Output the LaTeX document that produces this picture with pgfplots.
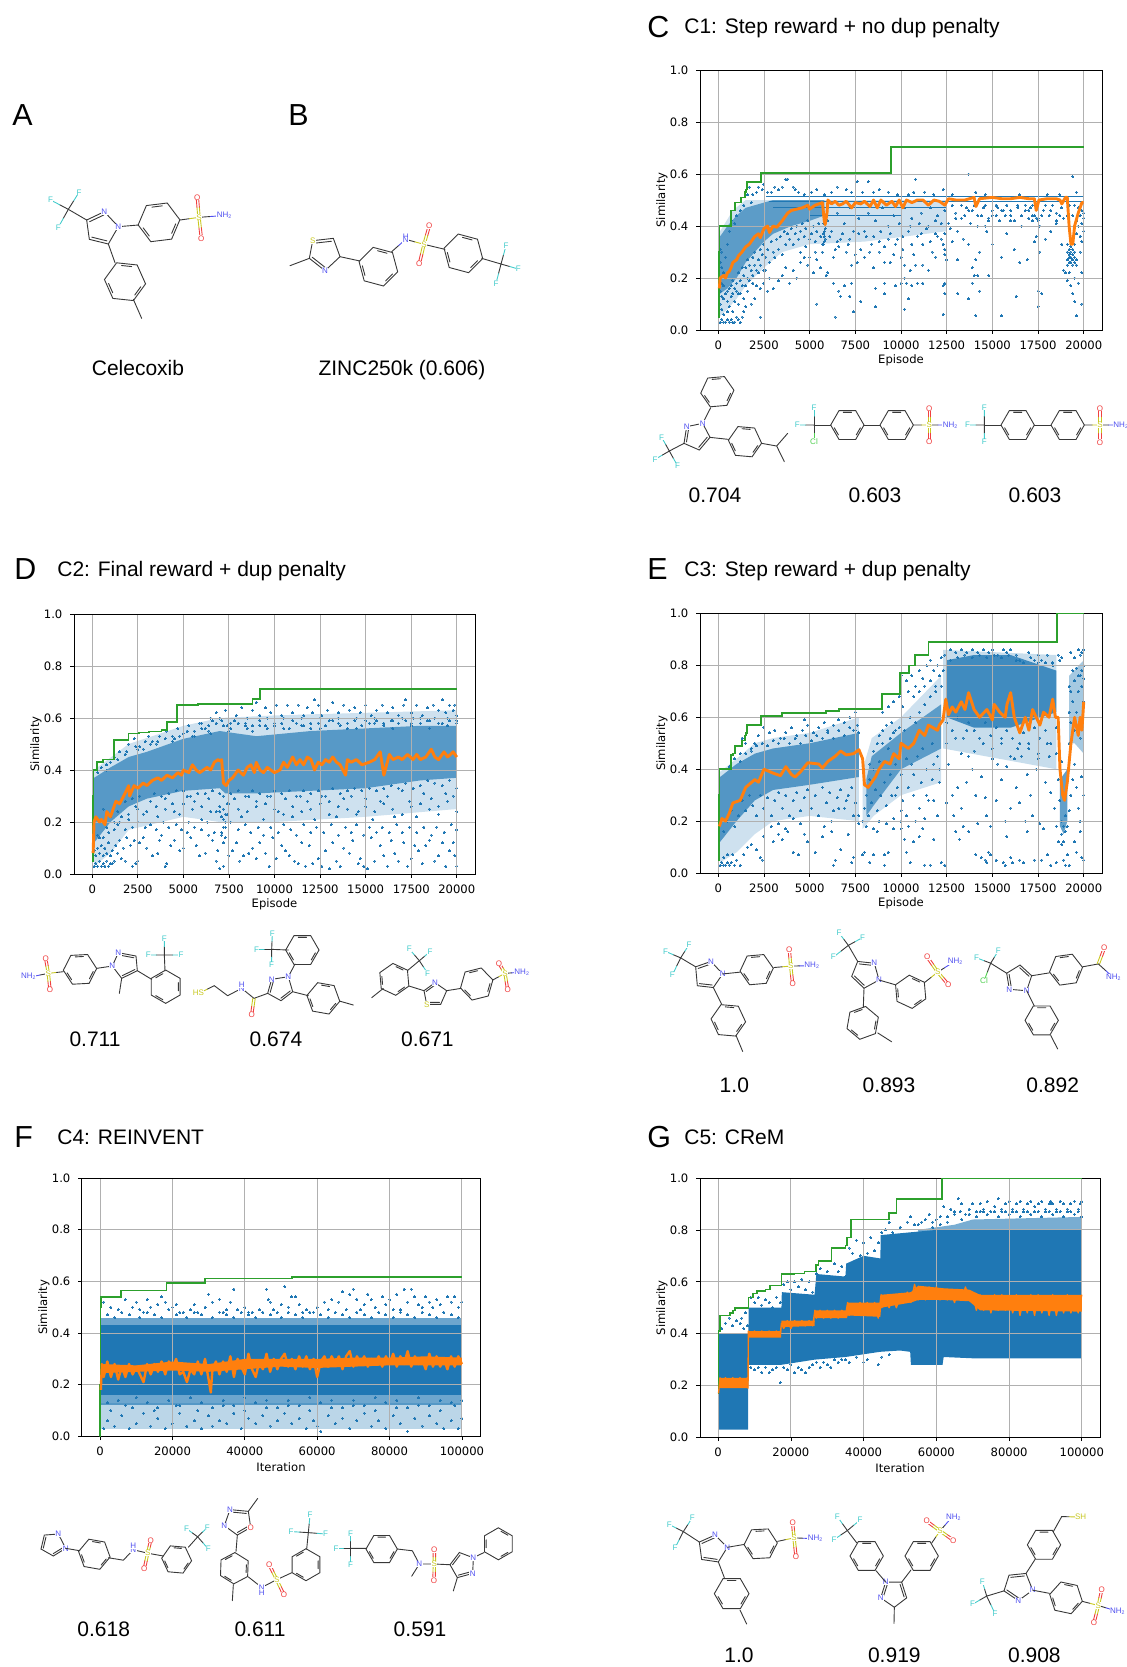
\documentclass[border=0pt]{standalone}
\usepackage{pgfplots}
\pgfplotsset{compat=1.18}
\usepackage{fontspec}
\usetikzlibrary{calc}
\setmainfont{Liberation Sans}
\newfontfamily\djv{DejaVu Sans}
\definecolor{c0}{HTML}{1F77B4}
\definecolor{c1}{HTML}{FF7F0E}
\definecolor{c2}{HTML}{2CA02C}
\definecolor{cF}{HTML}{44CCCC}
\definecolor{cO}{HTML}{F04040}
\definecolor{cN}{HTML}{5050F0}
\definecolor{cS}{HTML}{C8C820}
\definecolor{cC}{HTML}{50D050}
\newcommand\tf{\fontsize{5.8}{6.5}\selectfont\djv}
\newcommand\nh{NH\raisebox{-.5pt}{\fontsize{2.6}{3}\selectfont 2}}
\pgfplotsset{
 table/hh/.style={header=false,row sep=\\,x expr=\thisrowno{0}*100,y expr=\thisrowno{1}/100},
 table/kk/.style={header=false,row sep=\\,x expr=\thisrowno{0}*1000,y expr=\thisrowno{1}/100},
 ep/.style={xmin=-1000,xmax=21000},
 it/.style={xmin=-5000,xmax=105000},
 back/.style={scale only axis,ymin=0,ymax=1,hide axis},
 front/.style={scale only axis,ymin=0,ymax=1,grid=major,scaled x ticks=false,scaled y ticks=false,
  grid style={color=black!31,line width=.45pt},axis line style={line width=.5pt,black},
  tick align=outside,tick pos=left,major tick length=1.9pt,every tick/.style={black,line width=.4pt},
  ytick={0,.2,.4,.6,.8,1},yticklabels={0.0,0.2,0.4,0.6,0.8,1.0},
  tick label style={font=\tf},xticklabel style={yshift=0pt},yticklabel style={xshift=-.4pt},
  every axis x label/.style={at={(axis description cs:0.5,0)},anchor=center,yshift=-15.3pt,font=\tf},
  every axis y label/.style={at={(axis description cs:0,0.5)},anchor=center,rotate=90,yshift=19pt,font=\tf},
  ylabel={Similarity}},
 fe/.style={front,ep,xtick={0,2500,5000,7500,10000,12500,15000,17500,20000},
  xticklabels={0,2500,5000,7500,10000,12500,15000,17500,20000},xlabel={Episode}},
 fi/.style={front,it,xtick={0,20000,40000,60000,80000,100000},
  xticklabels={0,20000,40000,60000,80000,100000},xlabel={Iteration}},
 pts/.style={color=c0,only marks,mark=*,mark size=.5pt,mark options={draw=c0,fill=c0,line width=0pt}},
 dn/.style={fill=c0,draw=none,fill opacity=#1},
 gl/.style={c2,line width=.8pt,const plot,no marks},
 ol/.style={c1,line width=1.45pt,no marks,line join=round},
 ob/.style={fill=c1,draw=none},
}
\tikzset{
 mol/.style={line width=.45pt,draw=black!78,line cap=round},
 lb/.style={font=\fontsize{4}{4}\selectfont,inner sep=.15pt,fill=white},
 val/.style={font=\fontsize{10.5}{11}\selectfont,inner sep=0pt,text height=7.5pt,text depth=0pt},
 ttl/.style={font=\fontsize{10.5}{11}\selectfont,inner sep=0pt,anchor=west,text height=7.5pt,text depth=0pt},
 let/.style={font=\fontsize{15.2}{16}\selectfont,inner sep=0pt,anchor=west,text height=11pt,text depth=0pt},
 zz/.style 2 args={shift={(#1,#2)},x=.16667pt,y=-.16667pt},
 z8/.style 2 args={shift={(#1,#2)},x=.16667pt,y=-.17857pt},
 z7/.style 2 args={shift={(#1,#2)},x=.16667pt,y=-.1744pt},
}
\def\hy{1}
\newcommand\Hx[4]{\draw[mol,shift={(#1,#2)},yscale=\hy] (#4:#3)--(#4+60:#3)--(#4+120:#3)--(#4+180:#3)--(#4+240:#3)--(#4+300:#3)--cycle
 (#4+12:0.8*#3)--(#4+48:0.8*#3) (#4+132:0.8*#3)--(#4+168:0.8*#3) (#4+252:0.8*#3)--(#4+288:0.8*#3);}
\newcommand\Pg[5]{\draw[mol] (#1)--(#2)--(#3)--(#4)--(#5)--cycle;
 \coordinate (Cc) at ($.2*(#1)+.2*(#2)+.2*(#3)+.2*(#4)+.2*(#5)$);
 \draw[mol] ($(#1)!.2!(Cc)$)--($(#2)!.2!(Cc)$) ($(#4)!.2!(Cc)$)--($(#5)!.2!(Cc)$);}
\newcommand\Bn[1]{\draw[mol] #1;}
\newcommand\Hb[3]{\draw[mol] (#1)--($(#1)!.5!(#2)$);\draw[mol,draw=#3] ($(#1)!.5!(#2)$)--(#2);}
\newcommand\Lb[3]{\node[lb,text=#3] at (#1) {#2};}
\newcommand\Dh[2]{\coordinate (Mm) at ($(#1)!.5!(#2)$);
 \draw[mol,draw=cS] ($(#1)!.6pt!90:(#2)$)--($(Mm)!.6pt!90:(#2)$) ($(#1)!.6pt!-90:(#2)$)--($(Mm)!.6pt!-90:(#2)$);
 \draw[mol,draw=cO] ($(Mm)!.6pt!90:(#2)$)--($(#2)!.6pt!-90:(#1)$) ($(Mm)!.6pt!-90:(#2)$)--($(#2)!.6pt!90:(#1)$);}
\newcommand\Sl[4]{\Dh{#1}{#2}\Dh{#1}{#3}\Lb{#2}{O}{cO}\Lb{#3}{O}{cO}\Lb{#1}{S}{cS}\ifx&#4&\else\Lb{#4}{\nh}{cN}\fi}
\newcommand\Cf[4]{\Hb{#1}{#2}{cF}\Hb{#1}{#3}{cF}\Hb{#1}{#4}{cF}\Lb{#2}{F}{cF}\Lb{#3}{F}{cF}\Lb{#4}{F}{cF}}
\begin{document}
\begin{tikzpicture}[x=.5pt,y=-.5pt]
\useasboundingbox (0,0) rectangle (1126,1667);
\coordinate (pC) at (700,330);\coordinate (pD) at (74,874);\coordinate (pE) at (700,873);
\coordinate (pF) at (82,1436.4);\coordinate (pG) at (700,1437.4);
% ---------- C
\begin{axis}[back,ep,at={(pC)},anchor=south west,width=201pt,height=130pt]
\addplot[dn=.22] coordinates {(50,.05)(500,.08)(1000,.12)(1500,.17)(2500,.24)(3500,.30)(5000,.33)(8000,.34)(12500,.38)(12500,.50)(5000,.5)(2500,.5)(1500,.5)(800,.46)(100,.38)} --cycle;
\addplot[dn=.65] coordinates {(100,.14)(500,.16)(1000,.2)(1500,.26)(2000,.3)(2500,.34)(3000,.37)(4000,.4)(5000,.42)(5800,.44)(5800,.5)(4000,.5)(3000,.5)(2500,.49)(1500,.47)(1000,.44)(500,.4)(100,.36)} --cycle;
\addplot[c0,line width=.8pt,no marks] coordinates {(2600,.513)(20000,.513)};
\addplot[c0,line width=.6pt,no marks] coordinates {(2800,.495)(20000,.495)};
\addplot[c0,line width=.6pt,no marks] coordinates {(3000,.47)(12500,.47)};
\addplot[c0,line width=.5pt,no marks] coordinates {(5000,.44)(10000,.44)};
\addplot[pts] table[hh]{137 60\\194 59\\108 58\\37 58\\38 58\\82 57\\76 57\\65 55\\54 54\\88 54\\123 54\\107 53\\113 53\\35 55\\33 54\\31 55\\29 53\\27 53\\25 56\\24 54\\22 55\\21 53\\19 52\\17 55\\16 52\\41 55\\42 54\\44 53\\47 52\\51 53\\58 52\\62 53\\70 54\\73 53\\79 53\\85 53\\93 53\\98 52\\104 52\\118 52\\128 52\\141 53\\146 52\\165 52\\180 52\\187 52\\196 53\\189 50\\
1 3\\2 4\\3 3\\4 3\\5 4\\6 3\\7 4\\8 3\\9 3\\3 6\\5 7\\2 8\\6 9\\8 7\\10 5\\11 4\\12 3\\13 5\\14 7\\15 9\\1 10\\3 12\\5 11\\7 13\\9 11\\11 10\\12 14\\14 12\\16 15\\18 10\\20 12\\21 17\\23 16\\25 18\\27 15\\19 21\\22 22\\26 23\\28 20\\30 16\\33 19\\35 21\\37 24\\39 18\\41 23\\43 20\\45 26\\47 28\\49 25\\52 22\\54 27\\56 24\\23 5\\196 5.5\\64 5\\74 7\\123 6\\141 5.5\\155 5.5\\102 8\\86 9\\163 13\\175 9\\137 12\\54 10\\91 14\\104 12\\131 14\\124 14\\78 11\\199 10\\195 11\\194 14\\175 15\\177 14\\
66 15\\69 17\\73 18\\72 13\\67 13\\86 16\\91 18\\97 17\\100 18\\102 20\\103 18\\106 17\\109 18\\112 18\\124 18\\123 17\\143 15\\142 21\\140 21\\148 21\\139 18\\139 24\\141 27\\143 30\\137 33\\134 35\\131 27\\128 34\\124 31\\124 29\\123 33\\125 27\\119 28\\115 23\\112 25\\108 25\\105 23\\102 25\\100 28\\96 29\\94 26\\91 26\\88 30\\85 24\\80 28\\76 26\\73 25\\70 30\\66 32\\63 28\\60 22\\57 30\\53 30\\50 28\\48 32\\45 30\\63 18\\59 21\\
170 43\\172 42\\166 40\\160 42\\158 37\\155 28\\150 33\\147 38\\146 40\\152 44\\155 46\\162 31\\165 26\\169 27\\176 30\\179 35\\182 38\\185 41\\188 33\\190 22\\192 22\\189 23\\191 19\\193 17\\195 20\\196 25\\198 30\\197 18\\199 22\\200 38\\199 41\\198 44\\197 47\\196 37\\200 45\\199 34\\
191 33\\192 31\\193 30\\194 29\\195 28\\192 28\\193 26\\194 25\\191 25\\195 33\\192 29\\194 27\\193 32\\195 30\\191 30\\196 27\\193 28\\194 31\\192 26\\191 27\\195 26\\
57.5 33\\58 34\\58.5 35\\58 36\\57.5 37\\58.2 38\\58.5 39\\57.8 41\\58.1 43\\173 44\\174 43\\175 43\\172 44\\176 40\\174 36\\173 34\\
130 45\\133 43\\136 47\\139 46\\142 44\\145 47\\148 43\\150 46\\153 47\\157 44\\160 46\\164 47\\168 46\\171 47\\178 46\\182 46\\185 45\\188 47\\120 36\\116 34\\111 37\\106 33\\101 36\\97 33\\93 35\\89 38\\84 33\\81 36\\77 37\\72 35\\68 37\\65 34\\61 36\\127 39\\124 37\\122 41\\119 42\\115 40\\110 41\\105 40\\
1 15\\1 20\\1 26\\1 31\\2 13\\2 18\\2 24\\2 30\\3 17\\3 22\\4 14\\4 28\\5 15\\5 33\\6 16\\6 38\\7 17\\7 42\\8 14\\8 19\\9 16\\9 41\\10 15\\10 18\\10 44\\11 14\\11 22\\12 19\\12 46\\13 17\\13 24\\14 21\\14 48\\15 17\\15 24\\16 20\\16 27\\17 19\\17 25\\18 23\\18 49\\19 18\\19 28\\20 25\\20 30\\21 23\\22 27\\23 25\\23 31\\24 29\\25 23\\25 33\\26 28\\27 31\\28 26\\29 34\\30 30\\31 28\\32 35\\33 31\\34 36\\35 29\\36 38\\37 33\\38 37\\39 35\\40 39\\41 33\\42 37\\43 40\\44 35\\45 38\\46 41\\47 36\\48 39\\49 42\\50 35\\51 37\\52 40\\53 34\\54 38\\55 41\\56 36\\57 33\\
60 42\\62 38\\64 31\\65 45\\67 35\\69 41\\71 33\\72 47\\74 38\\75 29\\77 43\\78 31\\80 38\\82 45\\83 30\\85 36\\86 42\\88 34\\90 47\\91 32\\93 40\\94 37\\96 44\\98 35\\99 41\\101 31\\102 47\\104 38\\106 43\\107 29\\109 36\\111 45\\112 33\\114 39\\116 47\\117 30\\119 37\\120 44\\122 35\\124 46\\
126 41\\128 48\\130 43\\131 38\\133 48\\135 44\\137 46\\138 41\\140 48\\142 40\\144 44\\146 48\\148 42\\150 44\\152 48\\154 42\\156 46\\158 48\\160 44\\162 42\\164 48\\166 44\\168 48\\170 46\\172 48\\175 42\\177 44\\179 48\\181 44\\183 48\\185 42\\187 44\\189 43\\191 44\\192 48\\194 44\\195 48\\196 42\\197 40\\198 36\\199 46\\200 43\\};
\end{axis}
\begin{axis}[fe,at={(pC)},anchor=south west,width=201pt,height=130pt]
\addplot[gl] coordinates {(0,.05)(30,.3)(60,.4)(700,.46)(900,.49)(1250,.51)(1450,.53)(1520,.54)(1580,.57)(2330,.604)(9450,.704)(20000,.704)};
\addplot[ol] table[hh]{.6 16\\1 20\\2 20.5\\3 21\\4 20\\5 22\\6 22.5\\7 24\\8 26\\10 27\\11 28.5\\13 30\\15 32\\17 33\\20 36\\22 37\\23 35.5\\25 39\\27 40\\28 37.5\\30 40\\32 39.5\\35 42\\38 45\\40 46\\43 46.5\\46 47\\49 48\\50 46.5\\53 48\\57 49\\58 42\\58.5 40.5\\59.5 45\\60 50\\62 48.5\\64 49.5\\66 48\\68 48.5\\70 49.5\\73 47\\75 49\\78 48.5\\80 49.5\\83 47.5\\85 50\\87 47\\89 50\\92 48\\95 49.5\\97 47.5\\99 50\\101 47\\103 50\\106 49\\109 50\\112 50\\115 48\\118 50\\121 49.5\\124 48\\126 50.5\\130 50\\135 50\\140 51\\141 47.5\\143 50.5\\150 51\\155 50.5\\160 50.5\\165 51\\170 50.5\\173 50.5\\174 46\\175.5 50\\180 50.5\\185 50.5\\187 50\\188 48.5\\190 51\\191 51\\192 40\\193 33\\194 33\\195 40\\197 45\\199 49\\200 49\\};
\end{axis}
% ---------- D
\begin{axis}[back,ep,at={(pD)},anchor=south west,width=200.5pt,height=130pt]
\addplot[dn=.22] coordinates {(100,.40)(2000,.5)(5000,.57)(7000,.6)(10000,.61)(20000,.63)(20000,.25)(15000,.22)(10000,.2)(7000,.2)(5000,.22)(2000,.17)(1000,.08)(100,.03)} --cycle;
\addplot[dn=.68] coordinates {(100,.37)(1000,.41)(2000,.45)(3000,.47)(5000,.52)(7000,.55)(9000,.53)(12000,.55)(15000,.56)(18000,.57)(20000,.57)(20000,.37)(18000,.36)(15000,.33)(12000,.32)(9000,.31)(7300,.31)(7000,.33)(5000,.32)(3000,.29)(2000,.26)(1000,.2)(100,.12)} --cycle;
\addplot[pts] table[hh]{1 3\\2 4\\3 3\\4 5\\5 3\\6 4\\7 3\\8 5\\9 3\\10 4\\11 4\\12 5\\2 7\\4 8\\6 7\\8 8\\10 7\\1 9\\3 10\\5 11\\7 10\\9 12\\11 9\\13 11\\14 8\\16 6\\18 5\\22 3\\24 4\\25 5\\15 13\\17 10\\19 14\\21 11\\23 13\\26 12\\28 14\\30 10\\33 7\\36 8\\37 13\\38 15\\40 3\\41 4\\43 11\\45 13\\48 9\\50 10\\52 16\\54 14\\57 11\\59 7\\62 8\\64 15\\66 13\\70 2\\69 9\\68 5\\72 3\\75 7\\77 9\\79 12\\81 5\\83 7\\86 8\\88 10\\90 6\\92 12\\95 8\\97 3\\99 14\\101 6\\104 11\\106 9\\108 7\\111 5\\113 4\\115 12\\117 3\\119 11\\121 4\\124 6\\126 3\\128 9\\130 2\\132 12\\134 5\\136 3\\138 10\\141 8\\143 13\\146 4\\147 6\\149 3\\151 2\\153 14\\155 5\\158 11\\160 7\\162 3\\164 13\\166 8\\168 5\\171 12\\173 3\\175 6\\177 11\\179 9\\181 4\\183 11\\185 13\\188 5\\190 7\\192 12\\194 3\\196 9\\198 12\\199 7\\200 3\\
3 15\\6 14\\9 16\\12 17\\14 19\\18 17\\22 18\\25 20\\29 18\\32 19\\35 17\\39 20\\42 18\\46 19\\49 17\\53 20\\56 18\\60 17\\63 20\\67 16\\71 15\\73 18\\76 20\\80 17\\84 19\\87 16\\91 18\\94 15\\98 18\\102 16\\105 19\\109 17\\112 15\\116 19\\120 16\\123 18\\127 16\\131 19\\135 15\\139 18\\142 16\\145 19\\149 15\\152 18\\156 16\\159 18\\163 16\\167 19\\170 16\\174 18\\178 16\\182 18\\186 15\\189 18\\193 16\\197 19\\200 17\\
72 25\\71 22\\73 20\\72 18\\71 16\\73 14\\72 12\\74 27\\70 24\\73 23\\72 21\\
20 50\\23 52\\26 49\\29 51\\31 53\\33 51\\37 53\\41 55\\44 53\\47 56\\50 54\\53 57\\56 55\\59 58\\62 56\\65 60\\68 62\\71 59\\73 63\\76 58\\79 61\\82 64\\85 60\\88 63\\90 66\\92 61\\95 64\\98 62\\101 65\\104 61\\107 65\\110 62\\113 65\\116 61\\118 64\\121 62\\124 65\\122 67\\126 61\\129 63\\132 66\\135 62\\138 65\\141 63\\144 64\\147 62\\150 65\\153 61\\156 63\\159 65\\162 62\\165 64\\168 61\\171 65\\172 67\\175 62\\178 65\\181 61\\184 64\\187 65\\190 63\\192 67\\194 62\\196 65\\198 63\\199 65\\200 61\\
60 58\\64 57\\66 59\\70 60\\74 57\\78 59\\84 58\\88 57\\92 59\\96 60\\100 58\\105 60\\110 59\\115 60\\120 58\\125 60\\130 59\\135 60\\140 58\\145 60\\150 59\\155 60\\160 58\\165 59\\170 60\\175 58\\180 60\\185 59\\190 58\\195 60\\200 59\\
12 45\\15 47\\18 46\\3 39\\5 41\\8 40\\10 43\\25 48\\35 50\\45 52\\55 53\\65 54\\75 55\\85 56\\95 57\\105 56\\115 57\\125 56\\135 58\\145 56\\155 58\\165 56\\175 57\\185 56\\195 57\\
15 20\\20 23\\25 25\\30 24\\35 26\\40 25\\45 24\\50 27\\55 25\\60 26\\65 24\\70 26\\75 27\\80 25\\85 24\\90 26\\95 27\\100 25\\105 23\\110 26\\115 24\\120 25\\125 27\\130 23\\135 26\\140 25\\145 23\\150 26\\155 24\\160 27\\165 25\\170 23\\175 26\\180 27\\185 25\\190 26\\195 28\\200 24\\
4 14\\8 18\\12 20\\16 22\\20 21\\24 26\\28 23\\32 28\\36 22\\40 29\\44 27\\48 23\\52 30\\56 28\\60 21\\64 29\\68 24\\70 31\\74 23\\78 29\\82 22\\86 30\\90 28\\94 21\\98 30\\102 24\\106 29\\110 22\\114 30\\118 28\\122 21\\126 30\\130 28\\134 22\\138 29\\142 30\\146 24\\150 29\\154 21\\158 28\\162 30\\166 22\\170 32\\174 28\\178 22\\182 31\\186 29\\190 23\\194 31\\198 30\\200 33\\6 25\\10 22\\14 24\\18 28\\22 29\\26 30\\34 31\\38 30\\42 31\\46 32\\50 32\\54 30\\58 31\\62 31\\66 32\\72 30\\76 31\\80 32\\84 30\\88 32\\92 31\\96 30\\100 32\\104 31\\108 32\\112 30\\116 32\\120 31\\124 32\\128 30\\132 33\\136 31\\140 32\\144 33\\148 32\\152 33\\156 32\\160 33\\164 34\\168 33\\172 35\\176 33\\180 34\\184 36\\188 35\\192 34\\196 36\\
8 42\\14 44\\19 47\\24 49\\28 48\\32 50\\36 51\\40 52\\44 51\\48 53\\52 55\\56 53\\60 56\\64 55\\68 58\\72 57\\76 56\\80 58\\84 57\\88 55\\92 57\\96 56\\100 57\\104 58\\108 56\\112 58\\116 57\\120 56\\124 58\\128 57\\132 59\\136 57\\140 56\\144 59\\148 57\\152 58\\156 59\\160 57\\164 59\\168 58\\172 59\\176 60\\180 58\\184 59\\188 60\\192 58\\196 59\\200 58\\};
\end{axis}
\begin{axis}[fe,at={(pD)},anchor=south west,width=200.5pt,height=130pt]
\addplot[gl] coordinates {(0,.05)(30,.3)(60,.4)(250,.43)(600,.44)(1200,.515)(2000,.54)(2550,.545)(3100,.548)(3800,.553)(4100,.585)(4650,.65)(5800,.653)(8800,.672)(9200,.711)(20000,.711)};
\addplot[ol] table[hh]{.5 8\\1 20\\2 22\\3 21\\4 20\\5 21\\7 19\\8 24\\9 23\\10 22\\13 28\\15 27\\18 31\\20 34\\20.5 30\\23 34\\25 33\\28 35\\30 34\\33 36\\36 37\\38 36\\41 38\\44 37\\47 39\\49 38\\50 40\\53 39\\55 42\\57 40\\59 39\\61 40\\63 41\\65 40\\67 43\\69 44\\70 43.5\\71 44\\72 35\\73.5 34\\75 36\\77 37\\80 40\\83 38\\85 41\\87 42\\89 39\\90 43\\92 40\\94 39\\96 41\\98 40\\100 39\\103 40\\105 43\\107 41\\110 45\\112 42\\114 44\\116 42\\118 45\\120 44\\122 40\\124 43\\126 42\\128 44\\130 43\\132 45\\134 43\\136 42\\139 38\\140 44\\142 43\\145 44\\148 42\\152 43\\155 44\\158 47\\160 38\\163 46\\165 44\\168 45\\170 44\\173 46\\176 44\\178 46\\180 44\\183 45\\186 48\\188 45\\190 44\\193 47\\195 45\\198 47\\200 45\\};
\end{axis}
% ---------- E
\begin{axis}[back,ep,at={(pE)},anchor=south west,width=201pt,height=129.75pt]
\addplot[dn=.22] coordinates {(100,.39)(1000,.44)(2000,.5)(3000,.52)(5000,.54)(7700,.6)(7700,.2)(5000,.22)(3000,.2)(2000,.15)(1000,.08)(100,.04)} --cycle;
\addplot[dn=.7] coordinates {(100,.37)(1000,.42)(2000,.46)(3000,.48)(5000,.5)(7700,.54)(7700,.37)(5000,.34)(3000,.32)(2000,.28)(1000,.2)(100,.12)} --cycle;
\addplot[dn=.22] coordinates {(7900,.4)(8400,.52)(10000,.6)(12200,.76)(12200,.35)(10000,.3)(8500,.22)(7900,.17)} --cycle;
\addplot[dn=.65] coordinates {(8100,.36)(8400,.45)(10000,.54)(12200,.65)(12200,.48)(10000,.40)(8500,.26)(8100,.22)} --cycle;
\addplot[dn=.25] coordinates {(12300,.86)(18500,.84)(18500,.4)(12300,.48)} --cycle;
\addplot[dn=.8] coordinates {(12500,.82)(14000,.84)(16000,.84)(18500,.78)(18500,.62)(16000,.56)(14000,.56)(12500,.6)} --cycle;
\addplot[dn=.4] coordinates {(19200,.76)(20000,.82)(20000,.46)(19500,.5)(19200,.5)} --cycle;
\addplot[dn=.7] coordinates {(18700,.36)(19100,.4)(19100,.2)(18900,.15)(18700,.18)} --cycle;
\addplot[pts] table[hh]{1 3\\2 4\\3 3\\4 3\\5 4\\6 3\\7 4\\9 3\\3 6\\5 7\\8 7\\10 5\\12 3\\14 7\\16 10\\18 11\\21 9\\23 6\\24 5\\30 12\\33 15\\35 13\\38 16\\41 8\\44 7\\47 15\\49 12\\53 8\\57 14\\62 16\\63 3\\64 5\\67 9\\71 15\\73 4\\74 6\\79 7\\80 8\\83 4\\85 7\\87 16\\91 3\\91 7\\93 8\\96 17\\100 17\\102 13\\103 8\\105 4\\107 12\\110 14\\113 3\\116 3\\118 13\\122 4\\124 3\\130 16\\132 13\\137 16\\141 7\\144 6\\146 5\\147 4\\148 8\\149 7\\152 5\\156 4\\157 3\\158 14\\160 6\\161 4\\165 5\\167 4\\169 16\\173 5\\177 5\\180 7\\182 3\\185 4\\186 12\\188 11\\189 5\\190 3\\191 7\\192 3\\195 12\\196 8\\198 16\\199 6\\200 5\\
120 22\\125 27\\128 30\\131 33\\133 25\\136 35\\139 40\\141 30\\144 37\\147 22\\150 44\\152 28\\155 36\\158 41\\160 25\\163 33\\166 45\\168 20\\171 30\\174 40\\176 19\\179 35\\181 45\\184 25\\186 36\\188 43\\126 42\\129 22\\134 18\\137 45\\142 19\\146 29\\149 18\\153 42\\157 20\\162 44\\165 27\\169 38\\172 22\\175 46\\178 17\\182 31\\185 18\\187 28\\121 40\\117 36\\114 30\\110 25\\107 38\\103 22\\100 24\\97 30\\113 21\\118 28\\
58 18\\62 20\\66 25\\70 28\\74 22\\77 19\\81 18\\85 17\\88 20\\92 19\\96 21\\100 20\\104 18\\108 20\\112 17\\45 19\\41 21\\37 17\\33 19\\29 18\\25 14\\
127 86\\130 85\\133 86\\136 85\\139 86\\142 85\\145 86\\148 85\\150 86\\153 84\\156 86\\158 85\\160 86\\163 84\\165 82\\170 85\\173 82\\175 84\\177 82\\180 84\\183 81\\186 84\\188 83\\
100 76\\103 74\\106 76\\108 72\\110 78\\112 75\\114 80\\116 82\\118 78\\120 80\\122 83\\124 84\\104 70\\107 68\\110 70\\113 72\\116 74\\119 72\\121 76\\123 78\\96 66\\99 68\\101 64\\93 64\\90 62\\
193 85\\195 83\\196 79\\197 86\\198 84\\199 85\\200 86\\200 80\\199 78\\198 76\\194 78\\192 72\\
25 56\\28 54\\31 55\\34 52\\37 54\\40 56\\43 53\\46 55\\49 57\\47 59\\52 54\\55 56\\58 58\\60 55\\63 57\\66 59\\69 58\\72 60\\75 62\\76 57\\74 55\\20 50\\22 53\\18 48\\15 50\\13 52\\12 46\\
83 42\\85 47\\87 50\\88 53\\90 55\\92 57\\94 52\\95 58\\97 55\\
125 50\\130 52\\133 46\\136 55\\140 47\\145 50\\150 48\\155 52\\160 45\\165 50\\170 48\\175 44\\180 50\\185 46\\
189 18\\188 15\\189 12\\190 16\\191 18\\188 20\\190 22\\192 24\\193 30\\194 36\\195 42\\196 33\\197 25\\198 20\\199 37\\200 30\\
3 16\\5 20\\7 24\\9 18\\11 22\\13 28\\15 24\\17 30\\19 26\\21 22\\23 30\\25 25\\27 29\\29 22\\31 28\\33 31\\35 25\\37 30\\39 22\\41 28\\43 31\\45 24\\47 29\\49 32\\51 25\\53 30\\55 22\\57 33\\59 27\\61 31\\63 24\\65 29\\67 32\\69 25\\71 30\\73 33\\75 27\\77 22\\
6 41\\9 44\\12 43\\15 46\\18 47\\21 49\\24 50\\27 49\\30 51\\33 50\\36 52\\39 50\\42 52\\45 50\\48 53\\51 51\\54 53\\57 52\\60 54\\63 52\\66 55\\69 53\\72 56\\75 55\\77 54\\
79 20\\80 25\\81 30\\82 22\\83 36\\84 27\\85 40\\86 32\\87 24\\88 43\\89 30\\90 50\\91 35\\92 26\\93 48\\94 38\\95 30\\96 54\\97 42\\98 33\\99 56\\100 38\\101 28\\102 55\\103 44\\104 33\\105 60\\106 42\\107 30\\108 58\\109 45\\110 62\\111 35\\112 48\\113 65\\114 40\\115 28\\116 68\\117 50\\118 42\\119 70\\120 45\\121 35\\122 72\\
125 58\\128 55\\131 60\\134 52\\137 58\\140 55\\143 52\\146 58\\149 53\\152 56\\155 50\\158 55\\161 52\\164 48\\167 54\\170 50\\173 56\\176 52\\179 55\\182 50\\185 56\\127 82\\131 83\\135 84\\139 83\\143 84\\147 83\\151 84\\155 83\\159 84\\163 82\\167 81\\171 83\\175 81\\179 81\\183 80\\187 82\\
192 50\\193 58\\194 66\\195 55\\196 62\\197 70\\198 52\\199 58\\200 66\\193 70\\195 74\\197 76\\199 72\\200 75\\192 62\\};
\end{axis}
\begin{axis}[fe,at={(pE)},anchor=south west,width=201pt,height=129.75pt]
\addplot[gl] coordinates {(0,.05)(30,.3)(60,.4)(700,.455)(800,.46)(900,.49)(1300,.51)(1450,.53)(1520,.54)(1580,.57)(2330,.604)(3500,.617)(5900,.625)(6600,.633)(8950,.69)(9950,.77)(10450,.80)(10750,.84)(11500,.89)(18550,1)(20000,1)};
\addplot[ol] table[hh]{.6 18\\2 21\\4 20\\6 23\\8 27\\12 28\\15 33\\20 36\\22 35\\25 40\\30 38.5\\34 37.5\\37 41\\40 38\\42 37\\45 39\\49 42.5\\55 42\\57 40.5\\60 43\\64 45\\67 47\\70 45.5\\74 46\\77 47.5\\79 44\\80 34\\82 33\\86 37\\88 40\\91 43\\94 42\\96 46\\99 44\\100 50\\104 48\\107 50\\110 55\\113 53\\115 57\\120 55\\121 57\\123 59\\124.5 67\\126 61\\128 64\\130 62\\133 66\\135 63\\137 69.5\\140 63\\143 60\\147 63\\150 59\\151 65\\154 62\\157 60\\158 65\\160 69.5\\162 60\\165 54\\168 60\\170 55\\172 63\\176 57\\178 62\\181 60\\183 67\\184.5 60\\186 60\\187 40\\188.5 30\\189.5 28\\191 35\\193 50\\195 60\\197 53\\198 60\\199 55\\200 66\\};
\end{axis}
% ---------- F
\begin{axis}[back,it,at={(pF)},anchor=south west,width=199pt,height=129.2pt]
\addplot[dn=.3] coordinates {(300,.03)(100000,.03)(100000,.13)(300,.13)} --cycle;
\addplot[dn=.65] coordinates {(300,.12)(100000,.12)(100000,.46)(300,.46)} --cycle;
\addplot[dn=1] coordinates {(300,.16)(100000,.16)(100000,.43)(300,.43)} --cycle;
\addplot[c0,line width=.9pt,no marks] coordinates {(0,0)(100000,0)};
\addplot[pts] table[kk]{1 52\\3 50\\5 49\\7 53\\9 50\\10 52\\11 49\\13 53\\14 50\\16 51\\17 54\\18 52\\20 50\\21 51\\23 48\\25 49\\26 51\\27 48\\29 50\\30 55\\31 52\\33 53\\35 49\\36 52\\37 57\\38 49\\40 50\\42 48\\44 49\\46 57\\46.5 53\\47 52\\48 49\\50 51\\51 58\\52 50\\53 54\\54 54\\55 51\\57 49\\60 50\\62 52\\64 53\\66 52\\67 56\\69 55\\70 57\\71 53\\73 51\\74 55\\75 53\\76 50\\78 54\\79 51\\80 53\\82 55\\83 49\\84 57\\85 52\\86 57\\87 54\\88 51\\89 50\\90 54\\91 52\\92 50\\93 53\\94 51\\96 54\\97 52\\98 54\\99 50\\100 52\\12 48\\22 48\\34 48\\41 48\\49 48\\56 48\\59 48\\63 49\\68 49\\72 49\\77 48\\81 49\\95 48\\
1 3\\2 6\\4 4\\6 8\\8 3\\10 5\\12 9\\14 4\\16 7\\18 3\\20 5\\22 9\\24 4\\26 6\\28 3\\30 8\\31 4\\33 6\\35 5\\37 9\\39 3\\41 7\\43 5\\45 8\\47 4\\49 6\\51 9\\53 5\\55 7\\57 3\\59 6\\60 4\\61 2\\63 8\\65 5\\67 7\\69 3\\71 6\\73 9\\75 4\\77 6\\79 3\\81 8\\83 5\\85 2\\87 7\\89 4\\91 8\\93 5\\95 3\\97 6\\99 3\\100 7\\3 10\\9 11\\15 10\\21 12\\27 10\\34 12\\40 10\\46 11\\52 12\\58 10\\64 11\\70 12\\76 10\\82 11\\88 12\\90 17\\90 19\\94 10\\98 12\\
2 47\\4 46\\6 48\\8 47\\11 46\\13 48\\15 47\\17 46\\19 49\\21 47\\24 46\\26 48\\28 47\\31 46\\33 48\\35 47\\37 46\\39 48\\41 47\\43 46\\45 48\\47 47\\50 46\\52 48\\54 47\\56 46\\58 48\\61 47\\63 46\\65 48\\67 47\\69 46\\71 48\\73 47\\75 46\\77 48\\79 47\\81 46\\83 48\\85 47\\87 46\\89 48\\91 47\\93 46\\95 48\\97 47\\99 46\\
2 13\\5 14\\7 12\\10 15\\13 13\\16 11\\19 14\\22 12\\25 15\\28 13\\31 11\\34 14\\37 12\\40 15\\43 13\\46 14\\49 11\\52 14\\55 12\\58 15\\61 13\\64 14\\67 11\\70 14\\73 12\\76 15\\79 13\\82 14\\85 11\\88 15\\91 12\\94 14\\97 13\\100 14\\};
\end{axis}
\begin{axis}[fi,at={(pF)},anchor=south west,width=199pt,height=129.2pt]
\addplot[gl] coordinates {(0,0)(30,.2)(60,.5)(300,.54)(5700,.565)(18300,.593)(29000,.611)(53000,.618)(100000,.618)};
\addplot[ob] coordinates {(300,.28)(10000,.275)(20000,.29)(30000,.28)(40000,.30)(50000,.30)(60000,.30)(70000,.305)(80000,.305)(90000,.31)(100000,.305)(100000,.275)(90000,.275)(80000,.275)(70000,.27)(60000,.265)(50000,.27)(40000,.26)(30000,.25)(20000,.255)(10000,.25)(300,.245)} --cycle;
\addplot[ol,line width=1.2pt] table[kk]{.2 18\\.5 28\\1 23\\2 29\\3 23\\4 28\\5 22\\6 27\\7 23\\8 28\\9 24\\10 27\\11 24\\12 21\\13 28\\14 24\\15 28\\16 25\\17 29\\18 24\\19 29\\20 26\\21 30\\22 24\\23 25\\24 21\\25 26\\26 24\\27 29\\28 24\\29 30\\30 22\\30.6 17\\31 25\\32 29\\33 24\\34 29\\35 25\\36 31\\37 23\\38 30\\39 27\\40 24\\41 32\\42 26\\43 23\\44 29\\45 26\\46 32\\47 25\\48 30\\49 26\\50 30\\51 32\\52 27\\53 30\\54 26\\55 31\\56 27\\57 31\\58 26\\59 30\\60 23\\61 29\\62 31\\63 27\\64 31\\65 28\\66 31\\67 26\\68 31\\69 33\\70 27\\71 31\\72 28\\73 31\\74 27\\75 30\\76 28\\77 31\\78 27\\79 31\\80 28\\81 32\\82 27\\83 31\\84 28\\85 33\\86 27\\87 31\\88 28\\89 30\\90 26\\91 32\\92 27\\93 31\\94 27\\95 30\\96 26\\97 31\\98 27\\99 31\\100 28\\};
\end{axis}
% ---------- G
\begin{axis}[back,it,at={(pG)},anchor=south west,width=200pt,height=129.7pt]
\addplot[dn=1] coordinates {(0,.03)(8200,.03)(8300,.28)(17400,.28)(26600,.3)(35000,.31)(44500,.33)(50000,.335)(52800,.33)(53000,.28)(61700,.28)(62000,.31)(70000,.305)(100000,.305)(100000,.80)(60000,.80)(44700,.78)(44600,.69)(40000,.7)(35200,.67)(35000,.62)(27000,.63)(26500,.55)(17500,.56)(17400,.5)(8400,.5)(8300,.40)(0,.40)} --cycle;
\addplot[dn=.6] coordinates {(55000,.8)(65000,.82)(70000,.84)(100000,.85)(100000,.79)(55000,.79)} --cycle;
\addplot[pts] table[kk]{1 42\\2 44\\3 46\\4 43\\5 45\\6 44\\6.5 46\\7 42\\7.5 48\\8 43\\9 54\\10 52\\11 54\\12 51\\13 53\\14 52\\15 50\\16 54\\17 52\\18 59\\19 60\\20 57\\21 60\\22 58\\23 61\\24 57\\25 60\\26 56\\27 63\\28 65\\29 62\\30 64\\31 61\\32 67\\33 64\\34 66\\35 62\\36 73\\37 71\\38 76\\39 70\\40 75\\41 71\\42 77\\43 72\\44 75\\45 79\\46 80\\47 83\\48 79\\50 81\\52 83\\53 85\\54 82\\56 83\\58 86\\59 81\\60 84\\61 82\\62 89\\63 85\\64 88\\65 87\\66 92\\66.5 87\\67 90\\68 86\\69 88\\70 90\\71 87\\72 90\\73 88\\74 91\\75 87\\76 89\\77 92\\78 88\\79 90\\80 91\\81 88\\82 90\\83 91\\84 88\\85 90\\86 91\\87 89\\88 90\\89 91\\90 88\\91 90\\91.5 91\\92 90\\93 88\\94 91\\95 90\\96 88\\97 90\\98 91\\99 88\\99.5 90\\100 91\\
9 27\\10 26\\11 27\\12 25\\13 27\\14 25\\15 26\\16 27\\17 21\\18 27\\19 26\\20 28\\21 25\\22 27\\23 26\\24 25\\25 27\\26 28\\27 29\\28 27\\29 29\\30 28\\31 27\\32 30\\33 29\\34 30\\35 30\\36 29\\38 31\\40 29\\41 30\\44 28\\45 31\\47 32\\
55 82\\57 84\\59 83\\61 85\\63 83\\65 86\\67 84\\69 86\\71 85\\72 87\\74 86\\75 87\\77 85\\78 87\\80 86\\81 87\\83 85\\84 87\\86 86\\87 87\\89 85\\90 87\\92 86\\93 87\\95 85\\96 87\\98 86\\99 87\\100 85\\73 87\\76 87\\79 87\\82 87\\85 87\\88 87\\91 87\\94 87\\97 87\\};
\end{axis}
\begin{axis}[fi,at={(pG)},anchor=south west,width=200pt,height=129.7pt]
\addplot[gl] coordinates {(0,.17)(100,.41)(500,.47)(3200,.48)(4000,.49)(4700,.5)(8300,.54)(9500,.555)(10700,.565)(13000,.57)(14300,.585)(17400,.63)(21000,.632)(23700,.64)(26900,.665)(27600,.68)(31200,.73)(35000,.74)(35400,.77)(36500,.84)(47000,.865)(49000,.92)(61600,1)(100000,1)};
\addplot[ob] coordinates {(300,.23)(8200,.23)(8300,.41)(17300,.41)(17400,.45)(26500,.45)(26600,.49)(35400,.49)(35600,.52)(44600,.52)(44800,.55)(53000,.56)(55000,.585)(62000,.575)(69000,.57)(72000,.55)(100000,.55)(100000,.485)(72000,.49)(69000,.525)(62000,.53)(55000,.53)(53000,.52)(44800,.5)(44600,.465)(35600,.47)(35400,.46)(26600,.46)(26500,.43)(17400,.425)(17300,.385)(8300,.385)(8200,.19)(300,.19)} --cycle;
\addplot[ol,line width=.7pt] table[kk]{.1 17\\.5 23\\1 20\\2 23\\3 20\\4 23\\5 20\\6 23\\7 20\\8 23\\8.2 19\\8.3 41\\9 39\\10 41\\11 39\\12 41\\13 39\\14 41\\15 39\\16 41\\17 39\\17.4 44\\18 42\\19 45\\20 42\\21 45\\22 43\\23 45\\24 43\\25 45\\26 43\\26.6 49\\27 46\\28 49\\29 46\\30 49\\31 46\\32 49\\33 46\\34 49\\35 47\\35.6 52\\36 47\\37 51\\38 48\\39 52\\40 48\\41 52\\42 47\\43 52\\44 46\\44.8 55\\45 50\\46 54\\47 50\\48 54\\49 50\\50 54\\51 52\\52 56\\53 52\\54 59\\55 53\\56 58\\57 53\\58 58\\59 54\\60 58\\61 53\\62 57\\63 53\\64 56\\65 52\\66 57\\67 53\\68 58\\69 53\\70 55\\71 49\\72 55\\73 49\\74 54\\75 48\\76 55\\77 49\\78 55\\79 49\\80 54\\81 48\\82 55\\83 47\\84 54\\85 48\\86 55\\87 47\\88 55\\89 48\\90 54\\91 47\\92 55\\93 47\\94 54\\95 48\\96 55\\97 48\\98 54\\99 48\\100 55\\};
\end{axis}
% ---------- text
\node[let] at (12,114) {A};\node[let] at (288,114) {B};
\node[val] at (138,368) {Celecoxib};\node[val] at (402,368) {ZINC250k (0.606)};
\node[let] at (647,26) {C};\node[ttl] at (684,26) {C1: Step reward + no dup penalty};
\node[let] at (14,568) {D};\node[ttl] at (57,569) {C2: Final reward + dup penalty};
\node[let] at (647,568.6) {E};\node[ttl] at (684,568.6) {C3: Step reward + dup penalty};
\node[let] at (14,1136.7) {F};\node[ttl] at (57,1136.7) {C4: REINVENT};
\node[let] at (647,1136.7) {G};\node[ttl] at (684,1136.7) {C5: CReM};
% A B
\begin{scope}[zz={0}{80}]
\Hx{477}{427}{63}{-7}\Hx{375}{605}{62}{6}
\Pg{260,420}{313,395}{355,440}{325,492}{268,478}
\Bn{(345,548)--(325,492) (355,440)--(415,435) (400,658)--(425,715)}
\Bn{(260,420)--(205,388)}\Cf{205,388}{152,360}{237,337}{175,442}
\Lb{313,395}{N}{cN}\Lb{355,440}{N}{cN}
\Hb{540,420}{597,412}{cS}\Hb{597,412}{665,407}{cN}\Sl{597,412}{592,352}{604,475}{672,407}
\Pg{928,535}{975,572}{1020,530}{1000,475}{938,482}
\Lb{938,482}{S}{cS}\Lb{975,572}{N}{cN}
\Bn{(870,557)--(928,535) (1020,530)--(1080,543) (1335,508)--(1272,493) (1445,535)--(1503,552)}
\Hx{1135}{560}{60}{15}\Hx{1390}{520}{60}{15}
\Hb{1175,515}{1217,478}{cN}\Hb{1217,478}{1272,493}{cS}\Lb{1217,470}{H}{cN}\Lb{1217,480}{N}{cN}
\Sl{1272,493}{1288,437}{1258,552}{}\Cf{1503,552}{1518,497}{1555,567}{1488,610}
\end{scope}
% C
\begin{scope}[zz={640}{0}]
\Hx{232}{1175}{50}{-5}\Hx{315}{1325}{50}{5}
\Pg{132,1330}{140,1280}{188,1270}{210,1312}{178,1350}
\Bn{(212,1223)--(188,1270) (210,1312)--(265,1318) (365,1330)--(410,1338)--(443,1300) (410,1338)--(433,1385)}
\Lb{140,1280}{N}{cN}\Lb{188,1270}{N}{cN}
\Bn{(132,1330)--(88,1353)}\Cf{88,1353}{65,1312}{45,1378}{113,1398}
\Hb{522,1275}{522,1222}{cF}\Hb{522,1275}{472,1275}{cF}\Hb{522,1275}{522,1325}{cC}\Lb{522,1222}{F}{cF}\Lb{472,1275}{F}{cF}\Lb{522,1325}{Cl}{cC}
\Bn{(522,1275)--(572,1275) (672,1275)--(720,1275)}\Hx{622}{1275}{50}{0}\Hx{770}{1275}{50}{0}
\Hb{820,1275}{868,1275}{cS}\Hb{868,1275}{920,1275}{cN}\Sl{868,1275}{868,1225}{868,1325}{930,1275}
\Cf{1033,1275}{1033,1222}{983,1275}{1033,1325}
\Bn{(1033,1275)--(1083,1275) (1183,1275)--(1233,1275)}\Hx{1133}{1275}{50}{0}\Hx{1283}{1275}{50}{0}
\Hb{1333,1275}{1380,1275}{cS}\Hb{1380,1275}{1432,1275}{cN}\Sl{1380,1275}{1380,1225}{1380,1327}{1442,1275}
\node[val] at (225,1485) {0.704};\node[val] at (705,1485) {0.603};\node[val] at (1185,1485) {0.603};
\end{scope}
% D
\begin{scope}[zz={0}{540}]
\Hx{240}{1288}{50}{-3}
\Hb{190,1295}{145,1300}{cS}\Hb{145,1300}{95,1310}{cN}\Sl{145,1300}{137,1255}{150,1350}{85,1310}
\Pg{408,1248}{355,1238}{337,1278}{365,1315}{412,1292}
\Bn{(290,1285)--(337,1278) (365,1315)--(358,1360) (412,1292)--(455,1318) (495,1293)--(493,1245)}
\Lb{337,1278}{N}{cN}\Lb{355,1238}{N}{cN}\Hx{497}{1340}{50}{-30}\Cf{493,1245}{445,1245}{493,1195}{543,1245}
\Hb{643,1337}{600,1358}{cS}\Lb{595,1358}{HS}{cS}
\Bn{(643,1337)--(683,1367)--(725,1345)--(762,1375)--(803,1360) (865,1310)--(885,1272) (865,1230)--(815,1228) (878,1355)--(925,1367) (1018,1383)--(1060,1395)}
\Lb{725,1345}{N}{cN}\Lb{725,1335}{H}{cN}
\Dh{762,1375}{755,1425}\Lb{755,1425}{O}{cO}
\Pg{803,1360}{815,1318}{865,1310}{878,1355}{843,1382}\Lb{815,1318}{N}{cN}\Lb{865,1310}{N}{cN}
\Hx{907}{1230}{50}{0}\Hx{970}{1375}{50}{10}\Cf{815,1228}{817,1180}{770,1228}{815,1275}
\Bn{(1115,1373)--(1150,1345) (1222,1292)--(1258,1262) (1227,1338)--(1272,1352) (1340,1352)--(1383,1345)}
\Hx{1183}{1318}{48}{25}\Cf{1258,1262}{1228,1227}{1290,1235}{1283,1300}
\Pg{1272,1352}{1305,1328}{1340,1352}{1322,1393}{1280,1393}\Lb{1305,1328}{N}{cN}\Lb{1280,1393}{S}{cS}
\Hx{1430}{1332}{50}{-14}\Hb{1478,1320}{1515,1300}{cS}\Hb{1515,1300}{1555,1297}{cN}\Sl{1515,1300}{1497,1270}{1523,1350}{1565,1297}
\node[val] at (285,1497) {0.711};\node[val] at (828,1497) {0.674};\node[val] at (1282,1497) {0.671};
\end{scope}
% E
\def\hy{.933}
\begin{scope}[z8={640}{540}]
\Pg{167,1195}{213,1180}{248,1215}{220,1253}{172,1248}\Lb{213,1180}{N}{cN}\Lb{248,1215}{N}{cN}
\Bn{(167,1195)--(122,1170) (248,1215)--(300,1210) (220,1253)--(245,1300) (288,1387)--(308,1432)}
\Cf{122,1170}{77,1152}{147,1133}{97,1218}\Hx{350}{1203}{50}{-5}\Hx{265}{1345}{52}{5}
\Hb{402,1197}{452,1193}{cS}\Hb{452,1193}{505,1192}{cN}\Sl{452,1193}{448,1147}{458,1243}{515,1192}
\Pg{653,1180}{703,1185}{717,1232}{672,1255}{635,1222}\Lb{703,1185}{N}{cN}\Lb{717,1232}{N}{cN}
\Bn{(653,1180)--(625,1135) (717,1232)--(765,1245) (672,1255)--(670,1307) (713,1380)--(755,1405)}
\Cf{625,1135}{597,1100}{668,1113}{580,1168}\Hx{812}{1265}{50}{25}\Hx{668}{1352}{50}{-20}
\Hb{855,1238}{893,1210}{cS}\Hb{893,1210}{935,1185}{cN}\Sl{893,1210}{862,1168}{925,1245}{945,1180}
\Pg{1140,1190}{1175,1220}{1160,1262}{1108,1258}{1100,1213}\Lb{1108,1258}{N}{cN}\Lb{1160,1262}{N}{cN}
\Bn{(1100,1213)--(1052,1185) (1175,1220)--(1228,1212) (1328,1195)--(1375,1187) (1160,1262)--(1183,1305) (1232,1387)--(1253,1425)}
\Hb{1052,1185}{1010,1170}{cF}\Hb{1052,1185}{1075,1150}{cF}\Hb{1052,1185}{1032,1235}{cC}\Lb{1010,1170}{F}{cF}\Lb{1075,1150}{F}{cF}\Lb{1032,1235}{Cl}{cC}
\Hx{1278}{1203}{50}{-8}\Hx{1205}{1345}{50}{0}
\Dh{1375,1187}{1393,1143}\Lb{1393,1143}{O}{cO}\Hb{1375,1187}{1420,1225}{cN}\Lb{1420,1225}{\nh}{cN}
\node[val] at (283,1525) {1.0};\node[val] at (747,1525) {0.893};\node[val] at (1238,1525) {0.892};
\end{scope}
% F
\def\hy{.956}
\begin{scope}[z7={0}{1120}]
\Pg{123,1230}{133,1190}{175,1187}{197,1228}{160,1250}\Lb{175,1187}{N}{cN}\Lb{197,1228}{N}{cN}
\Hx{283}{1245}{48}{10}\Hx{530}{1260}{45}{5}
\Bn{(197,1228)--(240,1235) (325,1255)--(370,1262)--(400,1232) (400,1232)--(443,1242) (443,1242)--(490,1250) (565,1225)--(593,1195)}
\Lb{400,1232}{N}{cN}\Lb{400,1222}{H}{cN}\Sl{443,1242}{452,1205}{433,1287}{}\Cf{593,1195}{560,1172}{622,1168}{625,1230}
\Pg{745,1122}{690,1117}{673,1163}{712,1190}{752,1168}\Lb{690,1117}{N}{cN}\Lb{673,1163}{N}{cN}\Lb{752,1168}{O}{cO}
\Hx{703}{1285}{47}{-28}\Hx{918}{1275}{48}{-30}
\Bn{(745,1122)--(773,1085) (712,1190)--(708,1237) (700,1332)--(697,1378) (745,1310)--(785,1340)--(830,1318)--(875,1298) (920,1230)--(925,1183)}
\Lb{785,1340}{N}{cN}\Lb{785,1354}{H}{cN}\Sl{830,1318}{808,1275}{852,1362}{}\Cf{925,1183}{873,1180}{930,1133}{977,1187}
\Cf{1052,1228}{1052,1185}{1008,1228}{1052,1275}\Hx{1145}{1230}{47}{0}
\Bn{(1052,1228)--(1100,1228) (1192,1230)--(1237,1235)--(1258,1273)--(1235,1308) (1258,1273)--(1303,1273)--(1350,1275) (1372,1312)--(1360,1350) (1420,1255)--(1452,1240)}
\Lb{1258,1273}{N}{cN}\Sl{1303,1273}{1303,1232}{1302,1320}{}
\Pg{1350,1275}{1378,1240}{1420,1255}{1418,1300}{1372,1312}\Lb{1420,1255}{N}{cN}\Lb{1418,1300}{N}{cN}
\Hx{1495}{1215}{48}{30}
\node[val] at (311,1458) {0.618};\node[val] at (780,1458) {0.611};\node[val] at (1260,1458) {0.591};
\end{scope}
% G
\begin{scope}[z7={640}{1120}]
\Pg{178,1210}{225,1190}{262,1225}{235,1267}{185,1260}\Lb{225,1190}{N}{cN}\Lb{262,1225}{N}{cN}
\Bn{(178,1210)--(130,1180) (262,1225)--(312,1217) (235,1267)--(253,1312) (300,1405)--(320,1445)}
\Cf{130,1180}{88,1160}{157,1140}{105,1227}\Hx{362}{1215}{50}{-3}\Hx{275}{1358}{52}{0}
\Hb{413,1208}{462,1198}{cS}\Hb{462,1198}{515,1200}{cN}\Sl{462,1198}{458,1155}{468,1252}{525,1200}
\Cf{622,1177}{592,1137}{660,1147}{582,1203}\Hx{680}{1250}{50}{0}\Hx{845}{1250}{50}{0}
\Pg{785,1325}{800,1370}{763,1397}{722,1370}{737,1325}\Lb{722,1370}{N}{cN}\Lb{737,1325}{N}{cN}
\Bn{(622,1177)--(650,1212) (708,1292)--(737,1325) (763,1397)--(762,1443) (785,1325)--(813,1290)}
\Hb{875,1213}{900,1178}{cS}\Hb{900,1178}{930,1145}{cN}\Sl{900,1178}{860,1150}{940,1205}{940,1140}
\Hb{1265,1137}{1310,1138}{cS}\Lb{1322,1138}{SH}{cS}
\Hx{1212}{1218}{50}{0}\Hx{1278}{1370}{50}{12}
\Pg{1107,1305}{1158,1300}{1178,1348}{1135,1378}{1092,1350}\Lb{1178,1348}{N}{cN}\Lb{1135,1378}{N}{cN}
\Bn{(1240,1180)--(1265,1137) (1185,1260)--(1158,1300) (1092,1350)--(1040,1365) (1178,1348)--(1228,1357)}
\Cf{1040,1365}{1027,1323}{998,1388}{1065,1415}
\Hb{1327,1380}{1375,1392}{cS}\Hb{1375,1392}{1420,1405}{cN}\Sl{1375,1392}{1385,1348}{1362,1442}{1432,1407}
\node[val] at (297,1535) {1.0};\node[val] at (763,1535) {0.919};\node[val] at (1183,1535) {0.908};
\end{scope}
\end{tikzpicture}
\end{document}
